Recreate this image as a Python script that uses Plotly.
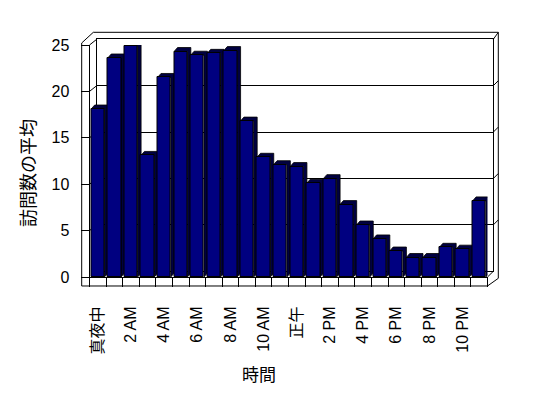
import plotly.graph_objects as go

# ---- data ----
hours = ["真夜中", "1 AM", "2 AM", "3 AM", "4 AM", "5 AM", "6 AM", "7 AM", "8 AM", "9 AM",
         "10 AM", "11 AM", "正午", "1 PM", "2 PM", "3 PM", "4 PM", "5 PM", "6 PM", "7 PM",
         "8 PM", "9 PM", "10 PM", "11 PM"]
visits = [18.1, 23.6, 24.9, 13.1, 21.5, 24.3, 23.9, 24.1, 24.4, 16.8, 12.9, 12.1,
          11.9, 10.1, 10.6, 7.8, 5.6, 4.1, 2.8, 2.1, 2.1, 3.2, 3.0, 8.2]
label_idx = list(range(0, 24, 2))
tick_labels = [hours[i] for i in label_idx]
y_ticks = [0, 5, 10, 15, 20, 25]

W, H = 548, 398
def px(x): return x / W
def py(y): return 1 - y / H

# front plane geometry (pixels)
FX0, FX1 = 89.5, 487.5
FY0, FY1 = 277.0, 45.0
# back wall
BX0, BX1 = 96.7, 493.3
DY = 5.7
OX = 81.7          # outer left wall edge
OXR = 498.3        # outer right edge
TOP_OUT = 32.3
FLOOR_B = 286.0

ymax = 25.0
unit = (FY0 - FY1) / ymax
def yf(v): return FY0 - v * unit
def yb(v): return yf(v) - DY

bw = 0.8
dx = 3.5 / ((FX1 - FX0) / 24)
dy = 4.0 / unit

# side + top faces (dark)
fx, fy = [], []
for i, v in enumerate(visits):
    l, r = i - bw / 2, i + bw / 2
    fx += [l, l + dx, r + dx, r + dx, r, r, l, None]
    fy += [v, v + dy, v + dy, dy, 0, v, v, None]

fig = go.Figure()
fig.add_trace(go.Scatter(x=[0, 1], y=[0, 0], xaxis="x", yaxis="y", mode="lines",
                         line=dict(width=0), hoverinfo="skip", showlegend=False))
fig.add_trace(go.Scatter(x=fx, y=fy, xaxis="x2", yaxis="y2", mode="lines",
                         fill="toself", fillcolor="#000040",
                         line=dict(color="#000000", width=0.8),
                         hoverinfo="skip", showlegend=False))
fig.add_trace(go.Bar(x=list(range(24)), y=visits, xaxis="x3", yaxis="y3",
                     width=bw, marker=dict(color="#000080", line=dict(color="#000000", width=1)),
                     showlegend=False))

font_lat = "Liberation Sans, Arial, Noto Sans CJK JP, sans-serif"

shapes = []
def seg(x0, y0, x1, y1, layer="above"):
    shapes.append(dict(type="line", xref="paper", yref="paper",
                       x0=px(x0), y0=py(y0), x1=px(x1), y1=py(y1),
                       line=dict(color="black", width=1), layer=layer))

# outer frame
outer = [(OX, FLOOR_B), (OX, FY1 - 2), (BX0 - 3.4, TOP_OUT), (OXR, TOP_OUT),
         (OXR, yb(0) + 7), (FX1, FLOOR_B)]
path = "M " + " L ".join(f"{px(a):.5f},{py(b):.5f}" for a, b in outer) + " Z"
shapes.append(dict(type="path", xref="paper", yref="paper", path=path,
                   line=dict(color="black", width=1), layer="above"))
seg(FX0, FY1, BX0, yb(ymax))
seg(BX1, yb(ymax), OXR, TOP_OUT)
seg(FX1, FY0, FX1, FLOOR_B)
seg(FX1, FY0, BX1, yb(0))
for v in y_ticks[1:-1]:
    seg(FX0, yf(v), BX0, yb(v), layer="below")
    seg(BX1, yb(v), OXR, yb(v) - 5)

fig.update_layout(
    width=W, height=H, autosize=False,
    margin=dict(l=0, r=0, t=0, b=0, pad=0, autoexpand=False),
    paper_bgcolor="white", plot_bgcolor="rgba(0,0,0,0)",
    showlegend=False, bargap=0,
    shapes=shapes,
    xaxis=dict(domain=[px(BX0), px(BX1)], range=[0, 1], anchor="y", automargin=False,
               showgrid=False, zeroline=False, showticklabels=False, ticks="",
               showline=True, mirror=True, linecolor="black", linewidth=1),
    yaxis=dict(domain=[py(yb(0)), py(yb(ymax))], range=[0, ymax], anchor="x", automargin=False,
               tickvals=y_ticks, showgrid=True, gridcolor="black", gridwidth=1,
               zeroline=False, showticklabels=False, ticks="",
               showline=True, mirror=True, linecolor="black", linewidth=1),
    xaxis2=dict(domain=[px(FX0), px(FX1)], range=[-0.5, 23.5], anchor="y2", automargin=False,
                tickvals=label_idx, ticktext=tick_labels, tickangle=-90,
                ticks="", ticklabelstandoff=22,
                tickfont=dict(family=font_lat, size=16, color="black"),
                showgrid=False, zeroline=False,
                showline=True, linecolor="black", linewidth=1),
    yaxis2=dict(domain=[py(FY0), py(FY1)], range=[0, ymax], anchor="x2", automargin=False,
                tickvals=y_ticks, ticks="outside", ticklen=8, tickcolor="black",
                ticklabelstandoff=8,
                tickfont=dict(family=font_lat, size=16, color="black"),
                showgrid=False, zeroline=False,
                showline=True, linecolor="black", linewidth=1),
    xaxis3=dict(overlaying="x2", anchor="y3", range=[-0.5, 23.5], automargin=False,
                tickvals=[i - 0.5 for i in range(25)], ticks="outside",
                ticklen=9, tickcolor="black", showticklabels=False,
                showgrid=False, zeroline=False, showline=False),
    yaxis3=dict(overlaying="y2", anchor="x3", range=[0, ymax], automargin=False,
                showticklabels=False, ticks="", showgrid=False,
                zeroline=False, showline=False),
    annotations=[
        dict(text="訪問数の平均", xref="paper", yref="paper", x=px(27), y=py(173),
             xanchor="center", yanchor="middle",
             showarrow=False, textangle=-90,
             font=dict(family="Noto Sans CJK JP", size=18, color="black")),
        dict(text="時間", xref="paper", yref="paper", x=px(259), y=py(373),
             xanchor="center", yanchor="middle",
             showarrow=False,
             font=dict(family="Noto Sans CJK JP", size=17, color="black")),
    ],
)

fig.write_html("out.html")
